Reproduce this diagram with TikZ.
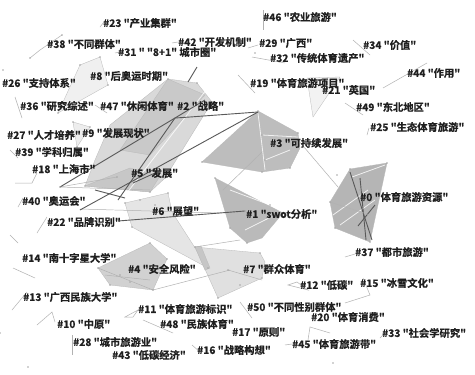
\documentclass[tikz,border=0pt]{standalone}
\usepackage{fontspec}
\setmainfont{Noto Sans CJK SC}[Ligatures=TeXOff,BoldFont=* Bold,BoldFeatures={FakeBold=0.6}]
\begin{document}
\begin{tikzpicture}[x=1pt,y=-1pt,
  lbl/.style={anchor=west,inner sep=0pt,font=\bfseries\fontsize{10.3}{10.3}\selectfont,text=black!88},
  hull/.style={draw=gray!55,line width=0.3pt,line join=round},
  lnk/.style={draw=gray!60,line width=0.5pt},
  dlnk/.style={draw=black!65,line width=0.9pt},
  wlnk/.style={draw=white,line width=0.8pt,opacity=0.8},
  dot/.style={fill=gray!70}]
\useasboundingbox (0,0) rectangle (475,375);
\fill[white] (0,0) rectangle (475,375);

% ---- cluster hulls ----
\path[hull,fill=gray!12] (100,57) -- (108,85) -- (58,113) -- (80,65) -- cycle;
\path[hull,fill=gray!14] (73,122) -- (90,127) -- (77,147) -- cycle;
\path[hull,fill=gray!10] (307,78) -- (340,77) -- (313,117) -- cycle;
\path[hull,fill=gray!30] (168,79) -- (197,83) -- (212,102) -- (165,178) -- (150,192) -- (85,186) -- (95,160) -- (110,125) -- cycle;
\path[hull,fill=gray!42] (168,79) -- (205,95) -- (150,155) -- (120,150) -- cycle;
\path[hull,fill=gray!44] (85,186) -- (130,168) -- (160,176) -- (150,192) -- cycle;
\path[hull,fill=gray!52] (202,162) -- (258,111) -- (298,133) -- (300,148) -- (290,168) -- (262,172) -- cycle;
\path[hull,fill=gray!54] (215,178) -- (283,213) -- (262,238) -- (247,243) -- (230,228) -- cycle;
\path[hull,fill=gray!58] (350,169) -- (387,163) -- (370,242) -- (335,228) -- (330,202) -- cycle;
\path[hull,fill=gray!20] (125,203) -- (168,193) -- (172,212) -- (208,268) -- (132,227) -- cycle;
\path[hull,fill=gray!24] (195,247) -- (260,253) -- (265,262) -- (262,278) -- (218,298) -- cycle;
\path[hull,fill=gray!45] (195,247) -- (201,246) -- (210,268) -- (205,270) -- cycle;
\path[hull,fill=gray!36] (98,268) -- (150,243) -- (167,259) -- (153,290) -- (110,285) -- cycle;

% ---- links ----
\draw[lnk] (298,140) -- (338,187);
\draw[lnk] (262,152) -- (223,190);
\draw[lnk] (195,247) -- (240,240);
\draw[lnk] (153,290) -- (230,270);
\draw[lnk] (80,209) -- (220,213);
\draw[lnk] (60,187) -- (150,190);
\draw[lnk] (60,187) -- (117,177);
\draw[wlnk] (210,85) -- (110,215);
\draw[wlnk] (258,113) -- (265,170);
\draw[wlnk] (262,135) -- (298,137);
\draw[wlnk] (265,160) -- (290,150);
\draw[wlnk] (230,190) -- (270,205);
\draw[wlnk] (245,230) -- (275,215);
\draw[wlnk] (333,215) -- (368,190);
\draw[wlnk] (352,177) -- (385,165);
\draw[wlnk] (340,225) -- (375,200);
\draw[dlnk] (258,112) -- (190,117) -- (175,118);
\draw[dlnk] (258,112) -- (80,210);
\draw[dlnk] (205,100) -- (60,187);
\draw[dlnk] (175,118) -- (118,200);
\draw[dlnk] (197,67) -- (188,82);
\draw[dlnk] (95,190) -- (125,198);
\draw[dlnk] (133,183) -- (155,173);
\draw[dlnk] (118,221) -- (245,211);
\draw[dlnk] (350,172) -- (372,240);
\draw[dlnk] (360,178) -- (366,240);
\draw[dlnk] (358,226) -- (375,205);
\draw[lnk] (330,202) -- (370,215);
\draw[lnk] (228,270) -- (262,280);
\draw[lnk] (98,268) -- (153,290);
\draw[lnk] (105,275) -- (150,280);
% small member links
\draw[lnk] (30,58) -- (40,50) -- (62,35);
\draw[lnk] (100,27) -- (104,22);
\draw[lnk] (115,53) -- (120,52);
\draw[lnk] (172,43) -- (178,42);
\draw[lnk] (15,97) -- (22,118);
\draw[lnk] (95,105) -- (107,113);
\draw[lnk] (263,10) -- (263,30);
\draw[lnk] (248,48) -- (258,45);
\draw[lnk] (252,57) -- (285,63);
\draw[lnk] (353,40) -- (370,55);
\draw[lnk] (238,75) -- (255,93);
\draw[lnk] (427,63) -- (383,88);
\draw[lnk] (345,103) -- (363,115);
\draw[lnk] (367,135) -- (369,128);
\draw[lnk] (10,150) -- (18,158);
\draw[lnk] (15,183) -- (32,183) -- (37,173);
\draw[lnk] (18,207) -- (23,198);
\draw[lnk] (37,233) -- (47,217);
\draw[lnk] (10,235) -- (18,243);
\draw[lnk] (13,268) -- (35,278);
\draw[lnk] (12,310) -- (27,292);
\draw[lnk] (37,325) -- (52,312) -- (55,322);
\draw[lnk] (143,320) -- (173,333);
\draw[lnk] (72,335) -- (72,355);
\draw[lnk] (125,317) -- (138,310) -- (133,317) -- cycle;
\draw[lnk] (345,257) -- (355,254);
\draw[lnk] (288,285) -- (297,282) -- (308,290) -- cycle;
\draw[lnk] (345,303) -- (370,295) -- (363,278);
\draw[lnk] (240,302) -- (252,318);
\draw[lnk] (308,340) -- (310,327) -- (330,333);
\draw[lnk] (380,338) -- (385,333);
\draw[lnk] (285,345) -- (292,344);
\draw[lnk] (192,345) -- (200,352);

% ---- member dots ----
\foreach \p in {(100,57),(108,85),(58,113),(80,65),(73,122),(90,127),(77,147),
  (168,79),(197,83),(212,102),(165,178),(150,192),(85,186),(60,187),(117,177),
  (258,111),(298,133),(290,168),(262,172),(202,162),(265,160),(262,135),
  (215,178),(283,213),(247,243),(230,228),(245,211),(270,205),
  (350,169),(387,163),(370,242),(335,228),(330,202),(360,190),
  (125,203),(168,193),(132,227),(208,268),(140,200),(155,205),
  (195,247),(260,253),(262,278),(218,298),(228,270),(240,285),
  (98,268),(150,243),(167,259),(153,290),(110,285),(120,275),(130,282),
  (3,70),(255,53),(337,175),(28,367),(0,333),(333,363),(62,35),(30,58)}
  \fill[dot] \p circle (0.9);

% ---- labels ----
\node[lbl] (l23) at (103,23) {\#23 "产业集群"};
\node[lbl] (l38) at (47,44) {\#38 "不同群体"};
\node[lbl] (l31) at (118,52) {\#31 " "8+1" 城市圈"};
\node[lbl] (l42) at (178,42) {\#42 "开发机制"};
\node[lbl] (l8) at (90,76) {\#8 "后奥运时期"};
\node[lbl] (l26) at (2,83) {\#26 "支持体系"};
\node[lbl] (l36) at (20,106) {\#36 "研究综述"};
\node[lbl] (l47) at (100,106) {\#47 "休闲体育"};
\node[lbl] (l2) at (177,106) {\#2 "战略"};
\node[lbl] (l46) at (263,17) {\#46 "农业旅游"};
\node[lbl] (l29) at (259,43) {\#29 "广西"};
\node[lbl] (l32) at (270,58) {\#32 "传统体育遗产"};
\node[lbl] (l34) at (363,45) {\#34 "价值"};
\node[lbl] (l19) at (250,83) {\#19 "体育旅游项目"};
\node[lbl] (l21) at (322,90) {\#21 "英国"};
\node[lbl] (l44) at (407,73) {\#44 "作用"};
\node[lbl] (l49) at (356,107) {\#49 "东北地区"};
\node[lbl] (l25) at (370,127) {\#25 "生态体育旅游"};
\node[lbl] (l27) at (7,135) {\#27 "人才培养"};
\node[lbl] (l9) at (82,133) {\#9 "发展现状"};
\node[lbl] (l39) at (15,152) {\#39 "学科归属"};
\node[lbl] (l18) at (32,169) {\#18 "上海市"};
\node[lbl] (l5) at (131,173) {\#5 "发展"};
\node[lbl] (l3) at (270,143) {\#3 "可持续发展"};
\node[lbl] (l0) at (360,197) {\#0 "体育旅游资源"};
\node[lbl] (l40) at (22,201) {\#40 "奥运会"};
\node[lbl] (l6) at (152,211) {\#6 "展望"};
\node[lbl] (l1) at (246,214) {\#1 "swot分析"};
\node[lbl] (l22) at (47,222) {\#22 "品牌识别"};
\node[lbl] (l37) at (355,252) {\#37 "都市旅游"};
\node[lbl] (l14) at (22,258) {\#14 "南十字星大学"};
\node[lbl] (l4) at (128,269) {\#4 "安全风险"};
\node[lbl] (l7) at (243,269) {\#7 "群众体育"};
\node[lbl] (l12) at (300,285) {\#12 "低碳"};
\node[lbl] (l15) at (360,283) {\#15 "冰雪文化"};
\node[lbl] (l13) at (23,297) {\#13 "广西民族大学"};
\node[lbl] (l11) at (138,309) {\#11 "体育旅游标识"};
\node[lbl] (l50) at (247,307) {\#50 "不同性别群体"};
\node[lbl] (l20) at (311,317) {\#20 "体育消费"};
\node[lbl] (l10) at (57,324) {\#10 "中原"};
\node[lbl] (l48) at (160,324) {\#48 "民族体育"};
\node[lbl] (l17) at (232,332) {\#17 "原则"};
\node[lbl] (l33) at (382,333) {\#33 "社会学研究"};
\node[lbl] (l28) at (73,342) {\#28 "城市旅游业"};
\node[lbl] (l45) at (292,344) {\#45 "体育旅游带"};
\node[lbl] (l16) at (197,350) {\#16 "战略构想"};
\node[lbl] (l43) at (112,355) {\#43 "低碳经济"};
\end{tikzpicture}
\end{document}
